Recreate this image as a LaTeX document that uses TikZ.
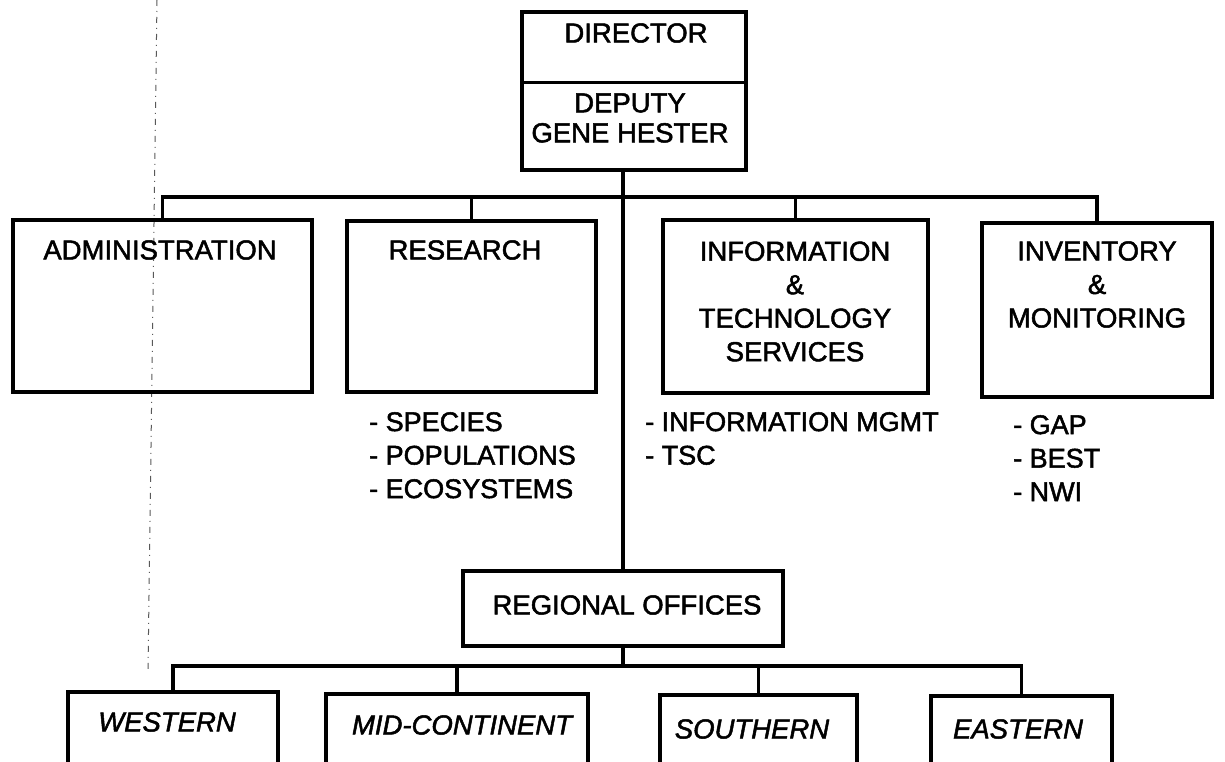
\documentclass[tikz,border=0pt]{standalone}
\usepackage{fontspec}
\setmainfont{Liberation Sans}[FakeBold=1.8]
\begin{document}
\begin{tikzpicture}[x=1pt,y=-1pt,
  box/.style={draw, line width=3.4pt, rectangle, inner sep=0pt},
  lbl/.style={inner sep=0pt, font=\fontsize{27.5}{33.5}\selectfont, align=center},
  lst/.style={inner sep=0pt, font=\fontsize{27}{33.5}\selectfont, align=left, anchor=north west},
  reglbl/.style={inner sep=0pt, font=\fontsize{27.5}{33.5}\selectfont\itshape, align=center},
  wire/.style={line width=3.4pt},
  artifact/.style={line width=1pt, black!65, dash pattern=on 6pt off 5pt on 1pt off 5pt}]
\useasboundingbox (0,0) rectangle (1225,762);
\clip (0,0) rectangle (1225,762);

% scanner mark
\coordinate (mk1) at (157,0);
\coordinate (mk2) at (148,670);
\draw[artifact] (mk1) -- (mk2);

% director
\node[box, minimum width=224pt, minimum height=158pt] (dir) at (634,91) {};
\draw[wire] ([yshift=-72pt]dir.north west) -- ([yshift=-72pt]dir.north east);
\node[lbl] (dirt) at (636,33) {DIRECTOR};
\node[lbl, font=\fontsize{27.5}{30}\selectfont] (dept) at (630,118) {DEPUTY\\GENE HESTER};

% divisions
\node[box, minimum width=299pt, minimum height=172pt] (adm) at (162.5,306) {};
\node[box, minimum width=249pt, minimum height=171pt] (res) at (471.5,306.5) {};
\node[box, minimum width=265pt, minimum height=173pt] (inf) at (795.5,306.5) {};
\node[box, minimum width=230pt, minimum height=174pt] (inv) at (1097,310) {};

\node[lbl] (admt) at (160,250) {ADMINISTRATION};
\node[lbl] (rest) at (465,250) {RESEARCH};
\node[lbl] (inft) at (795,301.5) {INFORMATION\\\&\\TECHNOLOGY\\SERVICES};
\node[lbl] (invt) at (1097,284.5) {INVENTORY\\\&\\MONITORING};

\node[lst] (resl) at (369,412) {- SPECIES\\- POPULATIONS\\- ECOSYSTEMS};
\node[lst] (infl) at (645,412) {- INFORMATION MGMT\\- TSC};
\node[lst] (invl) at (1013,415) {- GAP\\- BEST\\- NWI};

% regional
\node[box, minimum width=320pt, minimum height=75pt] (reg) at (623,608.5) {};
\node[lbl] (regt) at (627,605) {REGIONAL OFFICES};

\node[box, minimum width=210pt, minimum height=108pt] (wes) at (173,746) {};
\node[box, minimum width=262pt, minimum height=106pt] (mid) at (457,747) {};
\node[box, minimum width=197pt, minimum height=105pt] (sou) at (758.5,747.5) {};
\node[box, minimum width=181pt, minimum height=104pt] (eas) at (1021.5,748) {};

\node[reglbl] (west) at (167,722) {WESTERN};
\node[reglbl] (midt) at (462,725) {MID-CONTINENT};
\node[reglbl] (sout) at (752,729) {SOUTHERN};
\node[reglbl] (east) at (1018,729) {EASTERN};

% connectors
\coordinate (busT) at (0,197);
\coordinate (busB) at (0,666);
\draw[wire] (reg.north |- dir.south) -- (reg.north);
\draw[wire] (adm.north) |- (inv.north |- busT) -- (inv.north);
\draw[wire] (res.north) -- (res.north |- busT);
\draw[wire] (inf.north) -- (inf.north |- busT);

\draw[wire] (wes.north) |- (eas.north |- busB) -- (eas.north);
\draw[wire] (reg.south) -- (reg.south |- busB);
\draw[wire] (mid.north) -- (mid.north |- busB);
\draw[wire] (sou.north) -- (sou.north |- busB);
\end{tikzpicture}
\end{document}
